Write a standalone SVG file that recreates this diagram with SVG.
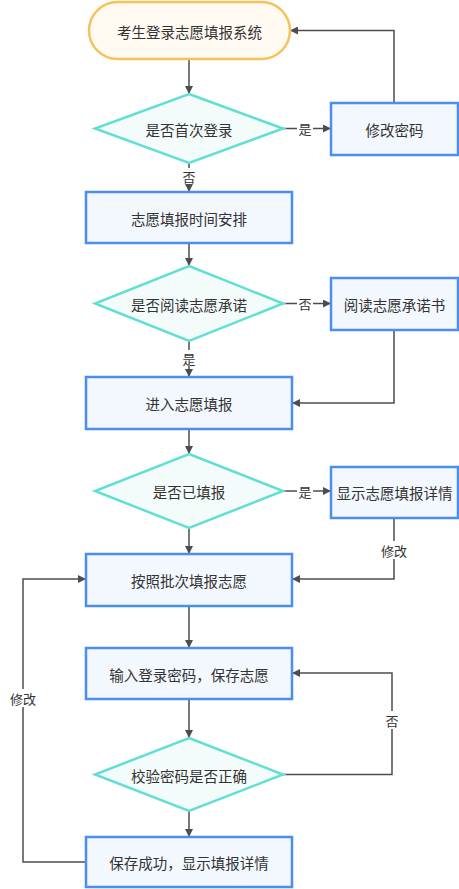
<svg xmlns="http://www.w3.org/2000/svg" width="459" height="889" viewBox="0 0 459 889">
<style>
.t{font-family:"Noto Sans CJK SC","Liberation Sans",sans-serif;font-size:14.5px;fill:#333;text-anchor:middle;dominant-baseline:central}
.l{font-family:"Noto Sans CJK SC","Liberation Sans",sans-serif;font-size:13px;fill:#333;text-anchor:middle;dominant-baseline:central}
.r{fill:#f3f7fe;stroke:#4a8ef3;stroke-width:2.5}
.d{fill:#f3fbfb;stroke:#62dfd2;stroke-width:2.5}
.c{fill:none;stroke:#4d4d4d;stroke-width:1.5}
.bg{fill:#fff}
</style>
<defs>
<marker id="a" viewBox="0 0 10 10" refX="10" refY="5" markerWidth="8" markerHeight="8" markerUnits="userSpaceOnUse" orient="auto">
<path d="M0,0 L10,5 L0,10 z" fill="#4d4d4d"/>
</marker>
</defs>
<g id="connectors">
<path class="c" d="M189,59 V94" marker-end="url(#a)"/>
<path class="c" d="M189,163 V192" marker-end="url(#a)"/>
<path class="c" d="M283,128.5 H331" marker-end="url(#a)"/>
<path class="c" d="M394,103 V30.5 H290" marker-end="url(#a)"/>
<path class="c" d="M189,243 V266" marker-end="url(#a)"/>
<path class="c" d="M283,303.5 H331" marker-end="url(#a)"/>
<path class="c" d="M189,341 V377" marker-end="url(#a)"/>
<path class="c" d="M394,330 V403 H292" marker-end="url(#a)"/>
<path class="c" d="M189,429 V454" marker-end="url(#a)"/>
<path class="c" d="M283,491 H331" marker-end="url(#a)"/>
<path class="c" d="M189,528 V554" marker-end="url(#a)"/>
<path class="c" d="M394,518 V579 H292" marker-end="url(#a)"/>
<path class="c" d="M189,606 V648" marker-end="url(#a)"/>
<path class="c" d="M189,699 V738" marker-end="url(#a)"/>
<path class="c" d="M283,774.5 H392 V673 H292" marker-end="url(#a)"/>
<path class="c" d="M189,811 V837" marker-end="url(#a)"/>
<path class="c" d="M86,862 H23 V579 H86" marker-end="url(#a)"/>
<rect class="bg" x="181" y="168" width="16" height="16"/>
<text class="l" x="189" y="176">否</text>
<rect class="bg" x="297" y="121" width="16" height="15"/>
<text class="l" x="305" y="128.5">是</text>
<rect class="bg" x="297" y="296" width="16" height="15"/>
<text class="l" x="305" y="303.5">否</text>
<rect class="bg" x="181" y="350" width="16" height="16"/>
<text class="l" x="189" y="358">是</text>
<rect class="bg" x="297" y="483" width="16" height="15"/>
<text class="l" x="305" y="491">是</text>
<rect class="bg" x="380" y="541" width="28" height="18"/>
<text class="l" x="394" y="550">修改</text>
<rect class="bg" x="384" y="711" width="16" height="18"/>
<text class="l" x="392" y="720">否</text>
<rect class="bg" x="9" y="689" width="28" height="18"/>
<text class="l" x="23" y="698">修改</text>
</g>
<g id="n-start">
<rect x="89" y="2" width="201" height="57" rx="28.5" fill="#fffaf2" stroke="#f5c35c" stroke-width="2.5"/>
<text class="t" x="189.5" y="31">考生登录志愿填报系统</text>
</g>
<g id="n-first">
<polygon class="d" points="189,94 283,128.5 189,163 95,128.5"/>
<text class="t" x="189" y="129">是否首次登录</text>
</g>
<g id="n-pwd">
<rect class="r" x="331" y="103" width="127" height="52"/>
<text class="t" x="394.5" y="129">修改密码</text>
</g>
<g id="n-time">
<rect class="r" x="86" y="192" width="206" height="51"/>
<text class="t" x="189" y="218">志愿填报时间安排</text>
</g>
<g id="n-read">
<polygon class="d" points="189,266 283,303.5 189,341 95,303.5"/>
<text class="t" x="189" y="304">是否阅读志愿承诺</text>
</g>
<g id="n-promise">
<rect class="r" x="331" y="278" width="127" height="52"/>
<text class="t" x="394.5" y="304">阅读志愿承诺书</text>
</g>
<g id="n-enter">
<rect class="r" x="86" y="377" width="206" height="52"/>
<text class="t" x="189" y="403">进入志愿填报</text>
</g>
<g id="n-filled">
<polygon class="d" points="189,454 283,491 189,528 95,491"/>
<text class="t" x="189" y="491.5">是否已填报</text>
</g>
<g id="n-detail">
<rect class="r" x="331" y="467" width="127" height="51"/>
<text class="t" x="394.5" y="492.5">显示志愿填报详情</text>
</g>
<g id="n-batch">
<rect class="r" x="86" y="554" width="206" height="52"/>
<text class="t" x="189" y="580">按照批次填报志愿</text>
</g>
<g id="n-input">
<rect class="r" x="86" y="648" width="206" height="51"/>
<text class="t" x="189" y="674">输入登录密码，保存志愿</text>
</g>
<g id="n-check">
<polygon class="d" points="189,738 283,774.5 189,811 95,774.5"/>
<text class="t" x="189" y="775">校验密码是否正确</text>
</g>
<g id="n-saved">
<rect class="r" x="86" y="837" width="206" height="50"/>
<text class="t" x="189" y="862">保存成功，显示填报详情</text>
</g>
</svg>
